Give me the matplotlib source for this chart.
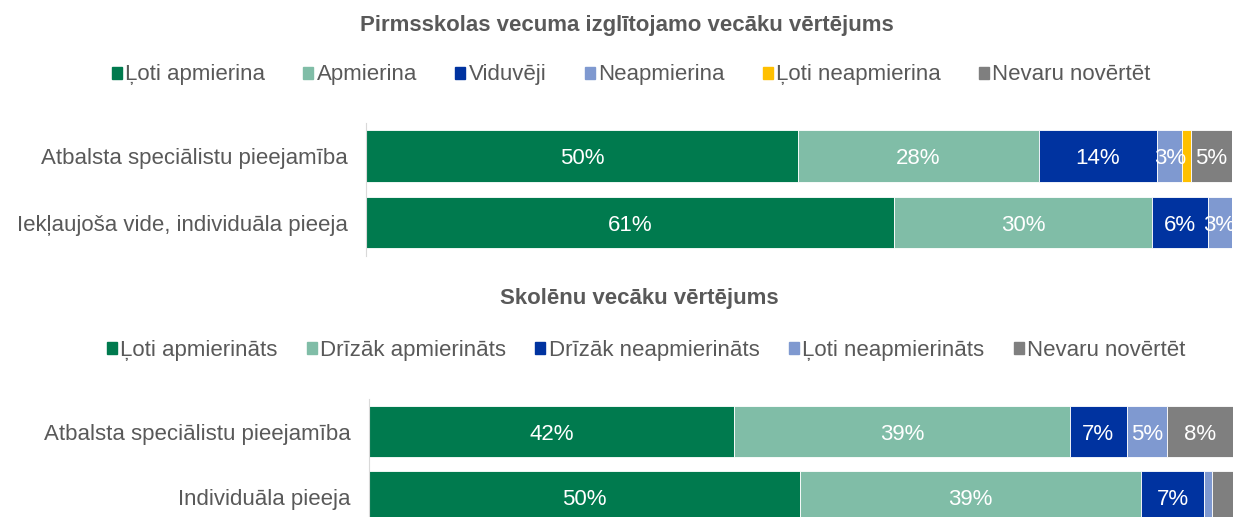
import matplotlib.pyplot as plt
from matplotlib.patches import Patch

plt.rcParams['font.family'] = ['Liberation Sans', 'DejaVu Sans']

# Pirmsskolas vecuma izglītojamo vecāku vērtējums
cats_top = ['Atbalsta speciālistu pieejamība', 'Iekļaujoša vide, individuāla pieeja']
series_top = ['Ļoti apmierina', 'Apmierina', 'Viduvēji', 'Neapmierina', 'Ļoti neapmierina', 'Nevaru novērtēt']
vals_top = [
    [49.9, 61.0],   # Ļoti apmierina
    [27.8, 29.8],   # Apmierina
    [13.7, 6.4],    # Viduvēji
    [2.9, 2.8],     # Neapmierina
    [1.0, 0.0],     # Ļoti neapmierina
    [4.7, 0.0],     # Nevaru novērtēt
]

# Skolēnu vecāku vērtējums
cats_bot = ['Atbalsta speciālistu pieejamība', 'Individuāla pieeja']
series_bot = ['Ļoti apmierināts', 'Drīzāk apmierināts', 'Drīzāk neapmierināts', 'Ļoti neapmierināts', 'Nevaru novērtēt']
vals_bot = [
    [42.3, 49.9],   # Ļoti apmierināts
    [38.8, 39.4],   # Drīzāk apmierināts
    [6.6, 7.4],     # Drīzāk neapmierināts
    [4.7, 0.9],     # Ļoti neapmierināts
    [7.6, 2.4],     # Nevaru novērtēt
]

c_top = ['#007A4E', '#80BDA7', '#0033A0', '#7F99D0', '#FFC000', '#7F7F7F']
c_bot = ['#007A4E', '#80BDA7', '#0033A0', '#7F99D0', '#7F7F7F']
txt = '#595959'

fig = plt.figure(figsize=(12.33, 5.17), dpi=100)


def draw(ax, cats, series, vals, colors):
    left = [0] * len(cats)
    for name, v, c in zip(series, vals, colors):
        bars = ax.barh(range(len(cats)), v, left=left, height=0.78, color=c,
                       edgecolor='white', linewidth=0.6, label=name)
        for b, val in zip(bars, v):
            if val >= 2.5:
                ax.text(b.get_x() + b.get_width() / 2, b.get_y() + b.get_height() / 2,
                        f'{round(val)}%', ha='center', va='center_baseline',
                        color='white', fontsize=16)
        left = [l + x for l, x in zip(left, v)]
    ax.set_xlim(0, 100)
    ax.set_ylim(len(cats) - 0.5, -0.5)
    ax.set_yticks(range(len(cats)))
    ax.set_yticklabels(cats, fontsize=16, color=txt)
    ax.set_xticks([])
    ax.tick_params(axis='y', length=0, pad=13)
    for s in ['top', 'right', 'bottom']:
        ax.spines[s].set_visible(False)
    ax.spines['left'].set_color('#D9D9D9')


ax1 = fig.add_axes([0.2968, 0.5053, 0.7022, 0.2573])
draw(ax1, cats_top, series_top, vals_top, c_top)
ax2 = fig.add_axes([0.2993, -0.0247, 0.7007, 0.2534])
draw(ax2, cats_bot, series_bot, vals_bot, c_bot)

fig.text(0.5085, 0.9516, 'Pirmsskolas vecuma izglītojamo vecāku vērtējums',
         ha='center', va='center', fontsize=16, fontweight='bold', color=txt)
fig.text(0.5187, 0.4217, 'Skolēnu vecāku vērtējums',
         ha='center', va='center', fontsize=16, fontweight='bold', color=txt)

h1 = [Patch(color=c) for c in c_top]
fig.legend(h1, series_top, loc='center', bbox_to_anchor=(0.512, 0.855), ncol=6,
           frameon=False, fontsize=16, labelcolor=txt, handlelength=0.45,
           handleheight=0.45, handletextpad=0.15, columnspacing=1.72)
h2 = [Patch(color=c) for c in c_bot]
fig.legend(h2, series_bot, loc='center', bbox_to_anchor=(0.524, 0.323), ncol=5,
           frameon=False, fontsize=16, labelcolor=txt, handlelength=0.45,
           handleheight=0.45, handletextpad=0.15, columnspacing=1.32)

fig.savefig('out.png', dpi=100)
